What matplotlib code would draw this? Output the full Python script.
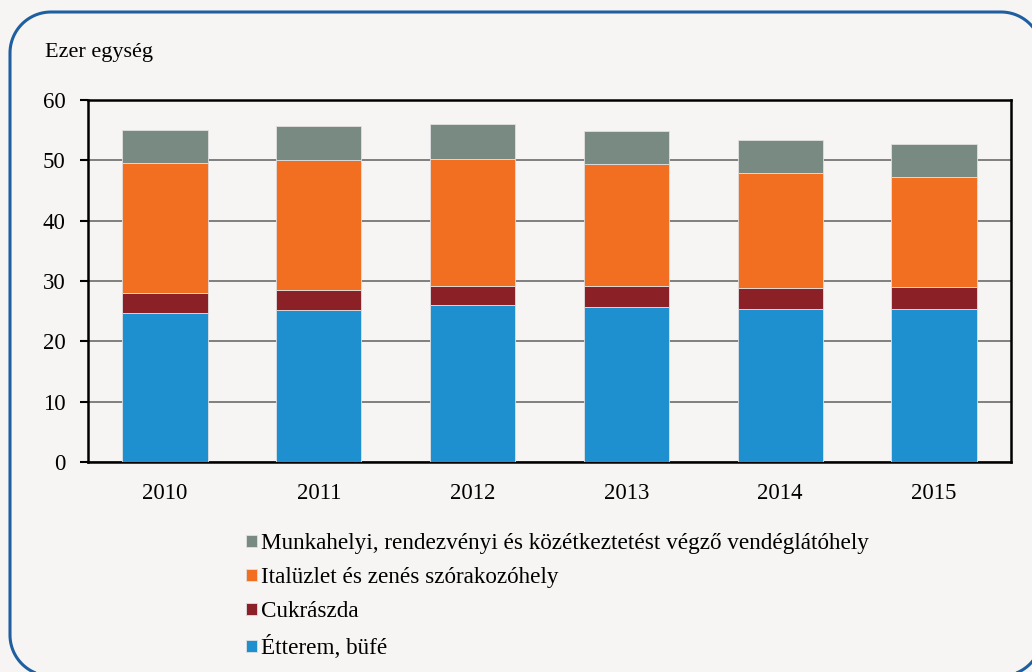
import matplotlib
matplotlib.use("Agg")
import matplotlib.pyplot as plt
import numpy as np
from matplotlib.patches import PathPatch
from matplotlib.path import Path
from matplotlib.transforms import IdentityTransform

years = ["2010", "2011", "2012", "2013", "2014", "2015"]
etterem = [24.7, 25.25, 25.95, 25.7, 25.35, 25.35]
cukraszda = [3.35, 3.25, 3.25, 3.4, 3.45, 3.6]
italuzlet = [21.45, 21.55, 21.1, 20.35, 19.1, 18.25]
munkahelyi = [5.6, 5.65, 5.7, 5.45, 5.5, 5.5]

labels = [
    "Étterem, büfé",
    "Cukrászda",
    "Italüzlet és zenés szórakozóhely",
    "Munkahelyi, rendezvényi és közétkeztetést végző vendéglátóhely",
]
colors = ["#1f90cf", "#8b2126", "#f26f22", "#788a82"]

plt.rcParams["font.family"] = ["Liberation Serif", "DejaVu Serif"]
bg = "#f6f5f3"
W, H = 1032, 672

fig = plt.figure(figsize=(W / 100, H / 100), dpi=100, facecolor=bg)


def rounded_rect(x0, y0, x1, y1, r):
    pts = []
    for cx, cy, a0 in [(x1 - r, y1 - r, 0), (x0 + r, y1 - r, 90),
                       (x0 + r, y0 + r, 180), (x1 - r, y0 + r, 270)]:
        t = np.radians(np.linspace(a0, a0 + 90, 30))
        pts.extend(zip(cx + r * np.cos(t), cy + r * np.sin(t)))
    pts.append(pts[0])
    return Path(pts)


border = PathPatch(rounded_rect(10, H - 676, 1042, H - 12, 41),
                   transform=IdentityTransform(), facecolor="none",
                   edgecolor="#1f5fa0", linewidth=2.2, clip_on=False)
fig.patches.append(border)

ax = fig.add_axes([88 / W, 1 - 462 / H, (1011 - 88) / W, (462 - 100) / H])
ax.set_facecolor(bg)

x = np.arange(len(years))
series = [etterem, cukraszda, italuzlet, munkahelyi]
bottom = np.zeros(len(years))
handles = []
for vals, col, lab in zip(series, colors, labels):
    b = ax.bar(x, vals, width=0.555, bottom=bottom, color=col, label=lab,
               edgecolor="#e0e0e0", linewidth=0.6, zorder=3)
    handles.append(b)
    bottom = bottom + np.array(vals)

ax.set_xlim(-0.5, len(years) - 0.5)
ax.set_ylim(0, 60)
ax.set_yticks(range(0, 61, 10))
ax.set_xticks(x)
ax.set_xticklabels(years)
ax.yaxis.grid(True, color="#7f7f7f", linewidth=1.4, zorder=1)
ax.set_axisbelow(True)
for s in ax.spines.values():
    s.set_color("black")
    s.set_linewidth(1.8)
ax.tick_params(axis="y", length=6, width=1.5, labelsize=16.5, pad=10, colors="black")
ax.tick_params(axis="x", length=0, labelsize=16.5, pad=15)

fig.text(45 / W, 1 - 53 / H, "Ezer egység", fontsize=16, va="center", ha="left")

leg = fig.legend(handles[::-1], labels[::-1], loc="upper left",
                 bbox_to_anchor=(237 / W, 1 - 524 / H), frameon=False,
                 fontsize=16.7, handlelength=0.45, handleheight=0.45, handletextpad=0.2,
                 labelspacing=0.56, borderaxespad=0)

fig.savefig("out.png", dpi=100, facecolor=bg)
